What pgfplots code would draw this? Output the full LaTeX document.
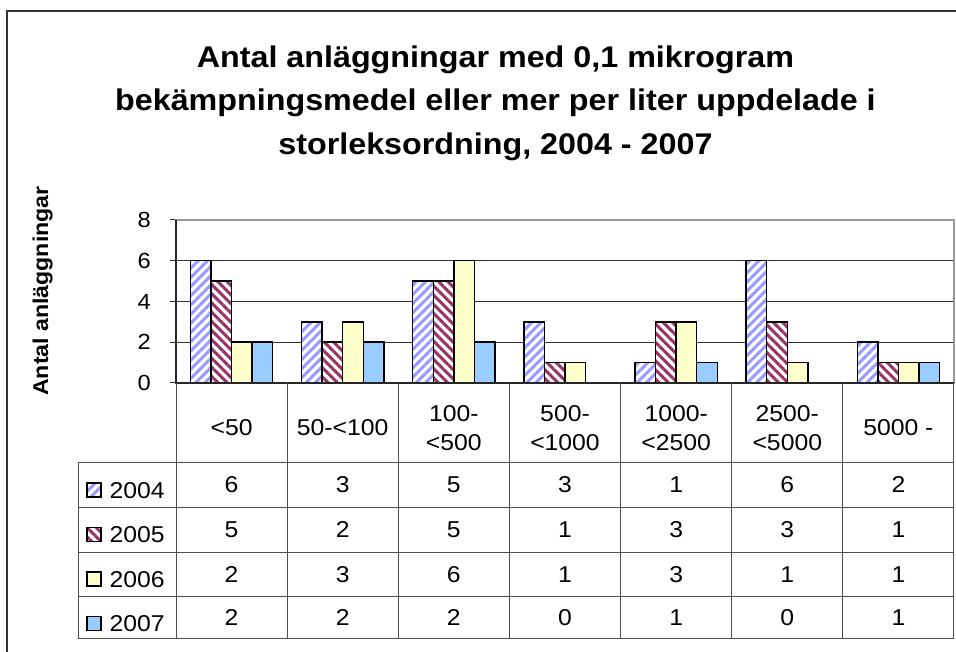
\documentclass[border=0pt]{standalone}
\usepackage{fontspec}
\setmainfont{Liberation Sans}[FakeStretch=1.08]
\usepackage{pgfplots}
\pgfplotsset{compat=1.18}
\usepackage{pgfplotstable}
\usetikzlibrary{patterns.meta}
\definecolor{c2004}{HTML}{9999FF}
\definecolor{c2005}{HTML}{993366}
\definecolor{c2006}{HTML}{FFFFCC}
\definecolor{c2007}{HTML}{99CCFF}
\definecolor{tline}{HTML}{505050}

\pgfplotstableread{
idx y2004 y2005 y2006 y2007
0 6 5 2 2
1 3 2 3 2
2 5 5 6 2
3 3 1 1 0
4 1 3 3 1
5 6 3 1 0
6 2 1 1 1
}\data

\begin{document}
\begin{tikzpicture}[x=1bp,y=1bp]
\useasboundingbox (0,0) rectangle (956,652);
\draw[line width=1.5bp, color=black!80] (7,-5) -- (7,641) -- (961,641);
\begin{axis}[
 at={(176bp,269bp)}, anchor=south west,
 scale only axis, width=778bp, height=163bp,
 xmin=-0.5, xmax=6.5, ymin=0, ymax=8,
 ybar=0pt, bar width=0.185,
 ytick={0,2,4,6,8}, ytick pos=left, tick align=outside, major tick length=6bp,
 ytick style={color=black!80, line width=1bp},
 xtick={0,...,6}, xtick style={draw=none},
 xticklabels={{<50},{50-<100},{100-\\<500},{500-\\<1000},{1000-\\<2500},{2500-\\<5000},{5000 -}},
 xticklabel style={anchor=center, yshift=-39bp, align=center, font=\fontsize{23}{29}\selectfont, inner sep=0pt},
 yticklabel style={font=\fontsize{22}{26}\selectfont, inner sep=0pt, xshift=-19bp},
 /pgf/number format/assume math mode=true,
 ymajorgrids, grid style={color=black!80, line width=1bp},
 axis line style={color=black!40, line width=1.5bp},
 ylabel={Antal anläggningar},
 ylabel style={at={(axis description cs:-0.1715,0.564)}, anchor=center, font=\bfseries\fontsize{21.5}{25}\selectfont},
 title={Antal anläggningar med 0,1 mikrogram\\bekämpningsmedel eller mer per liter uppdelade i\\storleksordning, 2004 - 2007},
 title style={at={(axis description cs:0.4106,1.681)}, anchor=center, align=center, font=\bfseries\fontsize{30}{43.5}\selectfont},
 legend cell align=left,
 legend image code/.code={\draw[#1] (0bp,-7bp) rectangle (14bp,7bp);},
 legend style={draw=none, fill=none, at={(axis description cs:-0.1158,-0.607)}, anchor=north west, inner sep=0pt, row sep=28.5bp, column sep=8bp, font=\fontsize{23}{27}\selectfont, nodes={inner sep=0pt, text height=16bp, text depth=0pt}},
 clip=false,
]
\addplot[draw=black, line width=1.5bp, fill=white, pattern color=c2004, postaction={pattern={Lines[angle=45,distance=6.5bp,line width=3bp]}}] table[x=idx,y=y2004]{\data};
\addplot[draw=black, line width=1.5bp, fill=white, pattern color=c2005, postaction={pattern={Lines[angle=-45,distance=6.5bp,line width=3bp]}}] table[x=idx,y=y2005]{\data};
\addplot[draw=black, line width=1.5bp, fill=c2006] table[x=idx,y=y2006]{\data};
\addplot[draw=black, line width=1.5bp, fill=c2007] table[x=idx,y=y2007]{\data};
\legend{2004,2005,2006,2007}
\draw[black!85, line width=1.5bp] (rel axis cs:0,1) -- (rel axis cs:0,0) -- (rel axis cs:1,0);
\end{axis}
% data table grid
\begin{scope}[tline, line width=1bp]
\foreach \yy in {463,508,553,597,639} \draw (78,652-\yy) -- (954,652-\yy);
\foreach \k in {0,...,7} \draw ({176+111.14*\k},269) -- ({176+111.14*\k},13);
\draw (78,189) -- (78,13);
\end{scope}
\foreach \r in {0,...,6} {
  \foreach \c/\yy in {y2004/167,y2005/122,y2006/77,y2007/34} {
    \pgfplotstablegetelem{\r}{\c}\of\data
    \node[font=\fontsize{23}{27}\selectfont, inner sep=0pt] at ({176+111.14*\r+55.57},\yy) {\pgfplotsretval};
  }
}
\end{tikzpicture}
\end{document}
